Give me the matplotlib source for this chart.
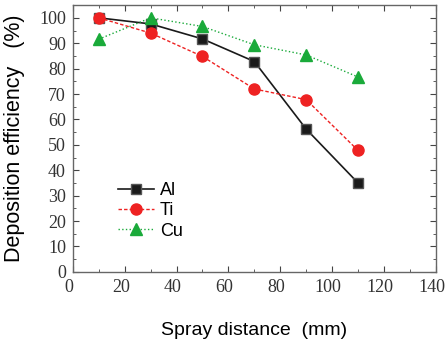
import matplotlib
matplotlib.use("Agg")
import matplotlib.pyplot as plt
import matplotlib.transforms as mtransforms
from matplotlib.ticker import MultipleLocator

# data
distance = [10, 30, 50, 70, 90, 110]
Al = [100, 97.6, 91.7, 82.8, 56.2, 35.0]
Ti = [100, 94.0, 84.8, 72.0, 67.8, 47.8]
Cu = [91.6, 100, 96.6, 89.4, 85.4, 76.7]

fig = plt.figure(figsize=(4.47, 3.42), dpi=100)
ax = fig.add_axes([0.163, 0.205, 0.812, 0.78])

ax.plot(distance, Al, '-', color='#1a1a1a', lw=1.2, marker='s', ms=7,
        mfc='#1a1a1a', mec='#555555', label='Al')
ax.plot(distance, Ti, '--', color='#ee2222', lw=1.0, dashes=(2.5, 1.5),
        marker='o', ms=8, mfc='#ee2222', mec='#ee2222', label='Ti')
ax.plot(distance, Cu, ':', color='#1aaa3a', lw=1.0, marker='^', ms=8,
        mfc='#1aaa3a', mec='#1aaa3a', label='Cu')

ax.set_xlim(0, 140)
ax.set_ylim(0, 105)
ax.xaxis.set_major_locator(MultipleLocator(20))
ax.xaxis.set_minor_locator(MultipleLocator(10))
ax.yaxis.set_major_locator(MultipleLocator(10))
ax.yaxis.set_minor_locator(MultipleLocator(5))
ax.tick_params(which='both', direction='in', top=True, right=True,
               color='#444444', labelsize=13, pad=5)
ax.tick_params(which='major', length=4)
ax.tick_params(which='minor', length=2.5)
shift = mtransforms.ScaledTranslation(-4 / 100, 0, fig.dpi_scale_trans)
for lab in ax.get_xticklabels():
    lab.set_transform(lab.get_transform() + shift)
for lab in ax.get_xticklabels() + ax.get_yticklabels():
    lab.set_family('Liberation Serif')
    lab.set_color('#333333')
for s in ax.spines.values():
    s.set_color('#666666')
    s.set_linewidth(1.0)

ax.set_xlabel('Spray distance  (mm)', family='Liberation Sans', fontsize=14, labelpad=19)
ax.set_ylabel('Deposition efficiency   (%)', family='Liberation Sans', fontsize=15.5, labelpad=10)

leg = ax.legend(loc='lower left', bbox_to_anchor=(0.08, 0.06), frameon=False,
                prop={'family': 'Liberation Sans', 'size': 13},
                handlelength=2.0, handletextpad=0.3, labelspacing=0.18)

fig.savefig('out.png', dpi=100)
